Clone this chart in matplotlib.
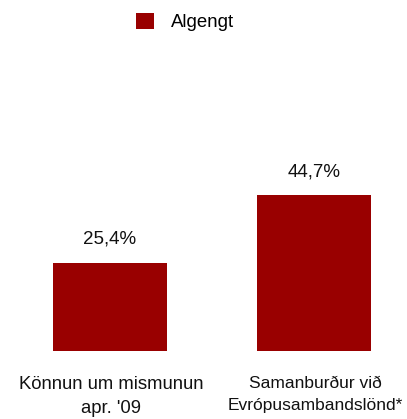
import matplotlib
matplotlib.use("Agg")
import matplotlib.pyplot as plt

categories = ["Könnun um mismunun\napr. '09", "Samanburður við\nEvrópusambandslönd*"]
values = [25.4, 44.7]
value_labels = ["25,4%", "44,7%"]
series_name = "Algengt"

plt.rcParams['font.family'] = ['Liberation Sans', 'DejaVu Sans']

fig = plt.figure(figsize=(4.07, 4.19), dpi=100)
ax = fig.add_axes([0, 68/419, 1, 351/419])

x = list(range(len(values)))
bars = ax.bar(x, values, width=0.56, color='#990000', label=series_name)
ax.set_xlim(-110/204, (407-110)/204)
ax.set_ylim(0, 351/3.48)

for xi, v, lab in zip(x, values, value_labels):
    ax.text(xi, v + 4.4, lab, ha='center', va='bottom', fontsize=13.5, color='#111111')

sizes = [13.3, 12.5]
for xi, c, fs in zip(x, categories, sizes):
    ax.text(xi + 0.005, -7.2, c, ha='center', va='top', fontsize=fs, color='#111111', linespacing=1.55)

for s in ax.spines.values():
    s.set_visible(False)
ax.set_xticks([])
ax.set_yticks([])

fig.legend(handles=[bars], labels=[series_name], loc='center', bbox_to_anchor=(185/407, 1 - 22/419),
           frameon=False, fontsize=13.4, handlelength=1.0, handleheight=1.0, handletextpad=0.9)

fig.savefig("out.png", dpi=100)
